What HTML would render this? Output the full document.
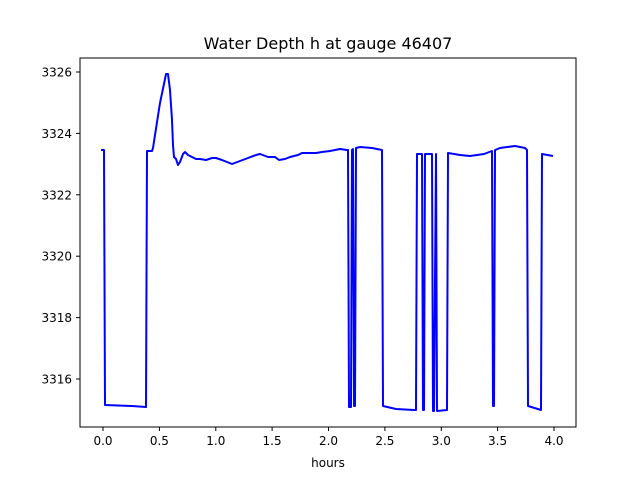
<!DOCTYPE html>
<html><head><style>body{margin:0;background:#fff}svg{display:block}text{font-family:"DejaVu Sans","Liberation Sans",sans-serif;fill:#000}</style></head>
<body>
<svg width="640" height="480" viewBox="0 0 640 480">
<rect width="640" height="480" fill="#fff"/>
<text x="328" y="49" font-size="16" text-anchor="middle">Water Depth h at gauge 46407</text>
<g stroke="#000" stroke-width="1">
<line x1="103" y1="427" x2="103" y2="431"/><line x1="159.4" y1="427" x2="159.4" y2="431"/><line x1="215.8" y1="427" x2="215.8" y2="431"/><line x1="272.1" y1="427" x2="272.1" y2="431"/><line x1="328.5" y1="427" x2="328.5" y2="431"/><line x1="384.9" y1="427" x2="384.9" y2="431"/><line x1="441.3" y1="427" x2="441.3" y2="431"/><line x1="497.6" y1="427" x2="497.6" y2="431"/><line x1="554" y1="427" x2="554" y2="431"/>
<line x1="76" y1="72" x2="80" y2="72"/><line x1="76" y1="133.4" x2="80" y2="133.4"/><line x1="76" y1="194.8" x2="80" y2="194.8"/><line x1="76" y1="256.2" x2="80" y2="256.2"/><line x1="76" y1="317.6" x2="80" y2="317.6"/><line x1="76" y1="379" x2="80" y2="379"/>
</g>
<g font-size="12" text-anchor="middle">
<text x="103" y="445">0.0</text><text x="159.4" y="445">0.5</text><text x="215.8" y="445">1.0</text><text x="272.1" y="445">1.5</text><text x="328.5" y="445">2.0</text><text x="384.9" y="445">2.5</text><text x="441.3" y="445">3.0</text><text x="497.6" y="445">3.5</text><text x="554" y="445">4.0</text>
<text x="328" y="467">hours</text>
</g>
<g font-size="12" text-anchor="end">
<text x="72" y="76.5">3326</text><text x="72" y="138">3324</text><text x="72" y="199.3">3322</text><text x="72" y="260.7">3320</text><text x="72" y="322.1">3318</text><text x="72" y="383.5">3316</text>
</g>
<polyline fill="none" stroke="#0000ff" stroke-width="2" stroke-linejoin="round" points="101,150 104,150 105,405 132,406 146,407 147,151 152,151 153,148 157,122 160,103 165,79 166,74 168,74 170,90 172,120 173,145 174,157 176,159 178,165 180,162 183,154 185,152 188,155 192,157 196,159 200,159 206,160 212,158 216,158 222,160 232,164 240,161 248,158 256,155 260,154 268,157 275,157 279,160 285,159 290,157 298,155 302,153 308,153 316,153 322,152 330,151 340,149 347,150 348,150 349,407 351,407 352,150 353,149 354,406 355,406 356,148 360,147 372,148 382,150 383,406 396,409 414,410 416,410 417,154 422,154 423,410 424,410 425,154 432,154 433,411 434,411 436,154 437,411 447,410 448,153 460,155 470,156 484,154 492,151 493,406 494,406 495,150 500,148 515,146 525,148 527,150 528,406 541,410 542,154 553,156"/>
<rect x="80" y="58" width="496" height="369" fill="none" stroke="#000" stroke-width="1"/>
</svg>
</body></html>
